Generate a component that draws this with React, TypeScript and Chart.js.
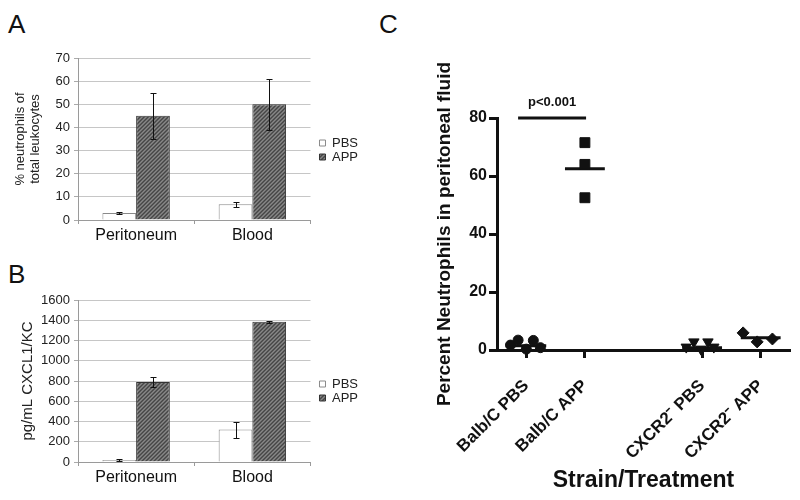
import React, { useEffect, useRef } from 'react';
import { Chart, registerables } from 'chart.js';

Chart.register(...registerables);

const FONT = "'Liberation Sans', Arial, sans-serif";
Chart.defaults.font.family = FONT;

// ---------- Panel A / B data ----------
const barCategories = ['Peritoneum', 'Blood'];
const seriesNames = ['PBS', 'APP'];

const aPbs = [3, 6.8];
const aPbsErr = [0.3, 1.1];
const aApp = [45, 50];
const aAppErr = [10, 11];
const aTitle = ['% neutrophils of', 'total leukocytes'];
const aMax = 70;
const aStep = 10;

const bPbs = [20, 320];
const bPbsErr = [6, 80];
const bApp = [790, 1385];
const bAppErr = [50, 8];
const bTitle = 'pg/mL CXCL1/KC';
const bMax = 1600;
const bStep = 200;

// ---------- Panel C data ----------
const cGroups = ['Balb/C PBS', 'Balb/C APP', 'CXCR2⁻ PBS', 'CXCR2⁻ APP'];
const cGroupPos = [0, 1, 3, 4];
const cBalbPbs = [1.7, 3.4, 0.3, 3.3, 0.8];
const cBalbPbsJitter = [-0.27, -0.14, 0, 0.12, 0.24];
const cBalbApp = [71.5, 64, 52.5];
const cBalbAppJitter = [0, 0, 0];
const cCxcrPbs = [1.0, 2.8, 0.3, 2.8, 1.0];
const cCxcrPbsJitter = [-0.27, -0.14, -0.02, 0.1, 0.2];
const cCxcrApp = [5.9, 2.8, 3.8];
const cCxcrAppJitter = [-0.3, -0.06, 0.2];
const cMeans = [1.5, 62.5, 0.8, 4.2];
const cYTitle = 'Percent Neutrophils in peritoneal fluid';
const cXTitle = 'Strain/Treatment';
const pValueText = 'p<0.001';
const sigFrom = -0.14;
const sigTo = 1.02;
const sigLevel = 80;
const cMeanHalf = 0.34;

function makeHatch(): CanvasPattern | string {
  const c = document.createElement('canvas');
  c.width = 4;
  c.height = 4;
  const g = c.getContext('2d');
  if (!g) return '#777';
  const img = g.createImageData(4, 4);
  for (let y = 0; y < 4; y++) {
    for (let x = 0; x < 4; x++) {
      const d = (x + y) % 4;
      const v = d === 0 ? 70 : d === 1 ? 95 : d === 2 ? 135 : 110;
      const k = (y * 4 + x) * 4;
      img.data[k] = v;
      img.data[k + 1] = v;
      img.data[k + 2] = v;
      img.data[k + 3] = 255;
    }
  }
  g.putImageData(img, 0, 0);
  return g.createPattern(c, 'repeat') || '#777';
}

const errorBarPlugin = {
  id: 'errorBars',
  afterDatasetsDraw(chart: any) {
    const ctx = chart.ctx;
    const ys = chart.scales.y;
    chart.data.datasets.forEach((ds: any, i: number) => {
      const errs = ds.errors;
      if (!errs) return;
      const meta = chart.getDatasetMeta(i);
      meta.data.forEach((bar: any, j: number) => {
        const v = ds.data[j];
        const e = errs[j];
        const top = Math.round(ys.getPixelForValue(v + e)) + 0.5;
        const bot = Math.round(ys.getPixelForValue(v - e)) + 0.5;
        const x = Math.round(bar.x) + 0.5;
        ctx.save();
        ctx.strokeStyle = '#111';
        ctx.lineWidth = 1;
        ctx.beginPath();
        ctx.moveTo(x, top);
        ctx.lineTo(x, bot);
        ctx.moveTo(x - 3, top);
        ctx.lineTo(x + 3, top);
        ctx.moveTo(x - 3, bot);
        ctx.lineTo(x + 3, bot);
        ctx.stroke();
        ctx.restore();
      });
    });
  },
};

const legendShiftPlugin = {
  id: 'legendShift',
  afterLayout(chart: any, _args: any, opts: any) {
    const l = chart.legend;
    if (l && opts && opts.dx) {
      l.left += opts.dx;
      l.right += opts.dx;
    }
  },
};

const sigTextPlugin = {
  id: 'sigText',
  afterDatasetsDraw(chart: any) {
    const { ctx, scales } = chart;
    const xm = scales.x.getPixelForValue((sigFrom + sigTo) / 2);
    const yp = scales.y.getPixelForValue(sigLevel) - 12;
    ctx.save();
    ctx.font = `bold 13px ${FONT}`;
    ctx.fillStyle = '#111';
    ctx.textAlign = 'center';
    ctx.textBaseline = 'alphabetic';
    ctx.fillText(pValueText, xm, yp);
    ctx.restore();
  },
};

function barConfig(opts: {
  pbs: number[];
  pbsErr: number[];
  app: number[];
  appErr: number[];
  max: number;
  step: number;
  title: string | string[];
  titleSize: number;
  titleLineHeight: number;
  titlePad: number;
  padTop: number;
  padBottom: number;
  xHeight: number;
  hatch: CanvasPattern | string;
}): any {
  return {
    type: 'bar',
    data: {
      labels: barCategories,
      datasets: [
        {
          label: seriesNames[0],
          data: opts.pbs,
          errors: opts.pbsErr,
          backgroundColor: '#ffffff',
          borderColor: '#8a8a8a',
          borderWidth: 1,
          categoryPercentage: 0.58,
          barPercentage: 1,
        },
        {
          label: seriesNames[1],
          data: opts.app,
          errors: opts.appErr,
          backgroundColor: opts.hatch,
          borderColor: '#333333',
          borderWidth: 1,
          categoryPercentage: 0.58,
          barPercentage: 1,
        },
      ],
    },
    options: {
      responsive: false,
      animation: false,
      layout: { padding: { top: opts.padTop, bottom: opts.padBottom, left: 0, right: 40 } },
      plugins: {
        tooltip: { enabled: false },
        legend: {
          position: 'right',
          align: 'center',
          labels: {
            boxWidth: 6,
            boxHeight: 6,
            padding: 1,
            color: '#222',
            font: { size: 13 },
          },
        },
        legendShift: { dx: 8 },
      },
      scales: {
        x: {
          offset: true,
          grid: {
            offset: true,
            drawOnChartArea: false,
            drawTicks: true,
            tickLength: 4,
            color: '#9a9a9a',
          },
          border: { display: true, color: '#9a9a9a', width: 1 },
          ticks: { color: '#111', font: { size: 16 }, padding: 2 },
          afterFit: (s: any) => {
            s.height = opts.xHeight;
          },
        },
        y: {
          min: 0,
          max: opts.max,
          ticks: {
            stepSize: opts.step,
            color: '#222',
            font: { size: 13 },
            padding: 4,
            callback: (v: number) => String(v),
          },
          grid: { color: '#c6c6c6', tickLength: 4, drawTicks: true, tickColor: '#aaaaaa' },
          border: { display: true, color: '#9a9a9a', width: 1 },
          title: {
            display: true,
            text: opts.title,
            color: '#222',
            font: { size: opts.titleSize, lineHeight: opts.titleLineHeight },
            padding: { top: opts.titlePad, bottom: 0 },
          },
          afterFit: (s: any) => {
            s.width = 78;
          },
        },
      },
    },
    plugins: [errorBarPlugin, legendShiftPlugin],
  };
}

function scatterConfig(): any {
  const groups = [
    { vals: cBalbPbs, jit: cBalbPbsJitter, style: 'circle', r: 5, rot: 0 },
    { vals: cBalbApp, jit: cBalbAppJitter, style: 'rect', r: 7, rot: 0 },
    { vals: cCxcrPbs, jit: cCxcrPbsJitter, style: 'triangle', r: 6, rot: 180 },
    { vals: cCxcrApp, jit: cCxcrAppJitter, style: 'rectRot', r: 6, rot: 0 },
  ];
  const pointSets = groups.map((g, gi) => ({
    type: 'scatter',
    label: cGroups[gi],
    data: g.vals.map((v, i) => ({ x: cGroupPos[gi] + g.jit[i], y: v })),
    pointStyle: g.style,
    pointRadius: g.r,
    rotation: g.rot,
    backgroundColor: '#111',
    borderColor: '#111',
    borderWidth: 1,
    clip: false,
  }));
  const meanSets = cMeans.map((m, gi) => ({
    type: 'line',
    label: cGroups[gi] + ' mean',
    data: [
      { x: cGroupPos[gi] - cMeanHalf, y: m },
      { x: cGroupPos[gi] + cMeanHalf, y: m },
    ],
    borderColor: '#111',
    borderWidth: 3,
    pointRadius: 0,
    showLine: true,
    clip: false,
  }));
  const sigSet = {
    type: 'line',
    label: 'significance',
    data: [
      { x: sigFrom, y: sigLevel },
      { x: sigTo, y: sigLevel },
    ],
    borderColor: '#111',
    borderWidth: 3,
    pointRadius: 0,
    showLine: true,
    clip: false,
  };
  return {
    type: 'scatter',
    data: { datasets: [...pointSets, ...meanSets, sigSet] },
    options: {
      responsive: false,
      animation: false,
      layout: { padding: { top: 78, left: 30, right: 10, bottom: 0 } },
      plugins: { legend: { display: false }, tooltip: { enabled: false } },
      scales: {
        x: {
          type: 'linear',
          min: -0.5,
          max: 4.5,
          afterBuildTicks: (s: any) => {
            s.ticks = cGroupPos.map((v) => ({ value: v }));
          },
          ticks: {
            autoSkip: false,
            minRotation: 45,
            maxRotation: 45,
            color: '#111',
            font: { size: 17, weight: 'bold' },
            padding: 18,
            callback: (value: number) => {
              const k = cGroupPos.indexOf(value);
              return k >= 0 ? cGroups[k] : '';
            },
          },
          grid: {
            drawOnChartArea: false,
            drawTicks: true,
            tickLength: 8,
            tickWidth: 3,
            tickColor: '#111',
          },
          border: { display: true, color: '#111', width: 3 },
          title: {
            display: true,
            text: cXTitle,
            color: '#111',
            font: { size: 23, weight: 'bold' },
            padding: { top: 0, bottom: 6 },
          },
          afterFit: (s: any) => {
            s.height = 150;
          },
        },
        y: {
          min: 0,
          max: 80,
          ticks: { stepSize: 20, color: '#111', font: { size: 16, weight: 'bold' }, padding: 2 },
          grid: {
            drawOnChartArea: false,
            drawTicks: true,
            tickLength: 8,
            tickWidth: 3,
            tickColor: '#111',
          },
          border: { display: true, color: '#111', width: 3 },
          title: {
            display: true,
            text: cYTitle,
            color: '#111',
            font: { size: 19, weight: 'bold' },
            padding: { top: 3, bottom: 0 },
          },
          afterFit: (s: any) => {
            s.width = 67;
          },
        },
      },
    },
    plugins: [sigTextPlugin],
  };
}

const letterStyle = (left: number, top: number): React.CSSProperties => ({
  position: 'absolute',
  left,
  top,
  fontSize: 26,
  lineHeight: 1,
  fontFamily: FONT,
  color: '#111',
});

export default function App() {
  const aRef = useRef<HTMLCanvasElement>(null);
  const bRef = useRef<HTMLCanvasElement>(null);
  const cRef = useRef<HTMLCanvasElement>(null);

  useEffect(() => {
    const hatch = makeHatch();
    const charts: Chart[] = [];
    if (aRef.current) {
      charts.push(
        new Chart(
          aRef.current,
          barConfig({
            pbs: aPbs,
            pbsErr: aPbsErr,
            app: aApp,
            appErr: aAppErr,
            max: aMax,
            step: aStep,
            title: aTitle,
            titleSize: 13,
            titleLineHeight: 1.15,
            titlePad: 12.5,
            padTop: 18,
            padBottom: 8,
            xHeight: 22,
            hatch,
          })
        )
      );
    }
    if (bRef.current) {
      charts.push(
        new Chart(
          bRef.current,
          barConfig({
            pbs: bPbs,
            pbsErr: bPbsErr,
            app: bApp,
            appErr: bAppErr,
            max: bMax,
            step: bStep,
            title: bTitle,
            titleSize: 15,
            titleLineHeight: 1.2,
            titlePad: 19,
            padTop: 50,
            padBottom: 18,
            xHeight: 20,
            hatch,
          })
        )
      );
    }
    if (cRef.current) {
      charts.push(new Chart(cRef.current, scatterConfig()));
    }
    return () => charts.forEach((c) => c.destroy());
  }, []);

  return (
    <div
      style={{
        position: 'fixed',
        left: 0,
        top: 0,
        width: 800,
        height: 500,
        background: '#ffffff',
        overflow: 'hidden',
      }}
    >
      <div style={letterStyle(8, 11)}>A</div>
      <div style={letterStyle(8, 261)}>B</div>
      <div style={letterStyle(379, 11)}>C</div>
      <canvas
        ref={aRef}
        width={400}
        height={210}
        style={{ position: 'absolute', left: 0, top: 40, display: 'block' }}
      />
      <canvas
        ref={bRef}
        width={400}
        height={250}
        style={{ position: 'absolute', left: 0, top: 250, display: 'block' }}
      />
      <canvas
        ref={cRef}
        width={400}
        height={460}
        style={{ position: 'absolute', left: 400, top: 40, display: 'block' }}
      />
    </div>
  );
}
